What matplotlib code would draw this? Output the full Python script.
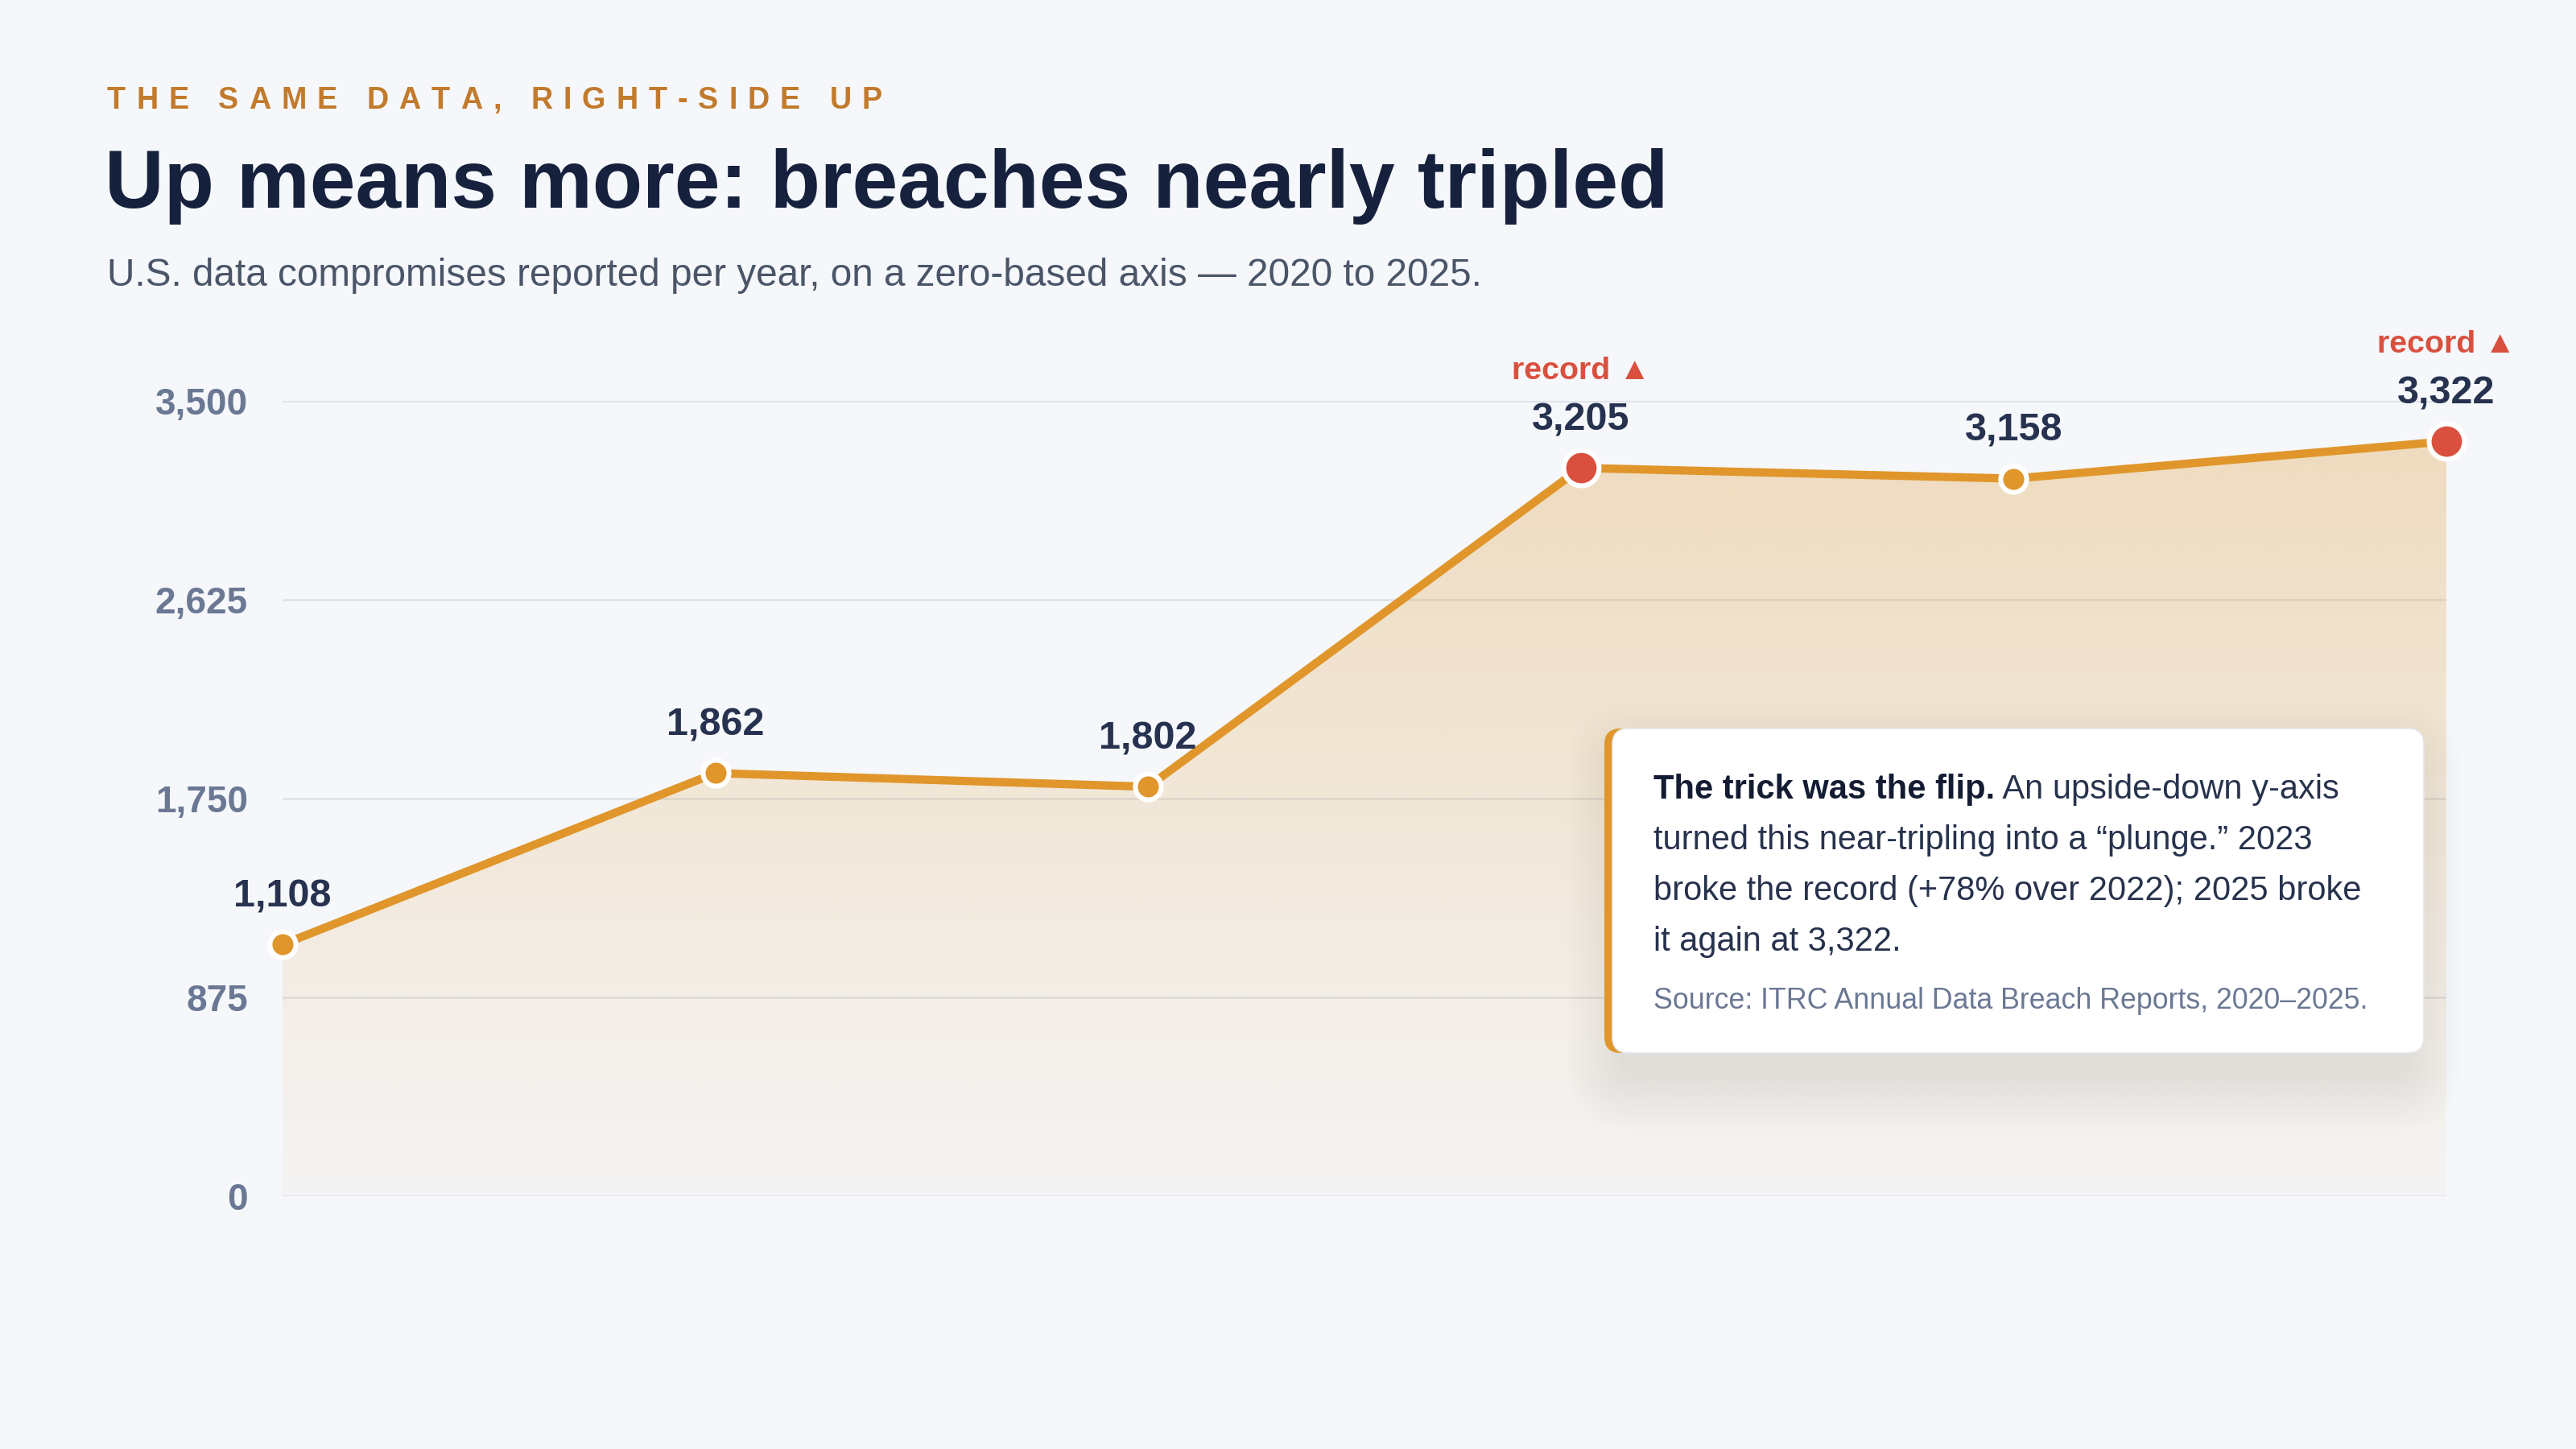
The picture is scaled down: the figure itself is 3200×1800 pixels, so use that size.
import numpy as np
import matplotlib
matplotlib.use('Agg')
import matplotlib.pyplot as plt
import matplotlib.transforms as mtransforms
from matplotlib.patches import FancyBboxPatch
from matplotlib.font_manager import FontProperties
from matplotlib.colors import to_rgb

years = [2020, 2021, 2022, 2023, 2024, 2025]
breaches = [1108, 1862, 1802, 3205, 3158, 3322]
record_years = [2023, 2025]
y_ticks = [0, 875, 1750, 2625, 3500]

eyebrow = "THE SAME DATA, RIGHT-SIDE UP"
title = "Up means more: breaches nearly tripled"
subtitle = "U.S. data compromises reported per year, on a zero-based axis \u2014 2020 to 2025."
note_bold = "The trick was the flip."
note_lines = [" An upside-down y-axis",
              "turned this near-tripling into a \u201cplunge.\u201d 2023",
              "broke the record (+78% over 2022); 2025 broke",
              "it again at 3,322."]
source = "Source: ITRC Annual Data Breach Reports, 2020\u20132025."

W, H, DPI = 3200, 1800, 200
BG = '#f5f7fa'
ORANGE = '#e0962b'
EYEBROW_C = '#c27a2c'
RED = '#d9503f'
NAVY = '#16213d'
LABEL = '#26324f'
BODY = '#27324d'
SUB = '#4a5568'
SLATE = '#6b7894'
GRID = '#dce1e9'

plt.rcParams['font.family'] = ['Liberation Sans', 'DejaVu Sans']

fig = plt.figure(figsize=(W / DPI, H / DPI), dpi=DPI, facecolor=BG)
ident = mtransforms.IdentityTransform()   # pixel coords, origin bottom-left
renderer = fig.canvas.get_renderer()


def T(y_top):
    # pixel y measured from the top edge
    return H - y_top


def text_w(s, fp):
    w, _, _ = renderer.get_text_width_height_descent(s, fp, ismath=False)
    return w


# ---- header ----
fp_eye = FontProperties(family='Liberation Sans', weight='bold', size=13.6)
x = 133
track = 13
for ch in eyebrow:
    fig.text(x, T(135), ch, transform=ident, fontproperties=fp_eye,
             color=EYEBROW_C, va='baseline', ha='left')
    x += text_w('H' + ch + 'H', fp_eye) - text_w('HH', fp_eye) + track

fig.text(130, T(258), title, transform=ident, fontsize=36.7, fontweight='bold',
         color=NAVY, va='baseline', ha='left')
fig.text(133, T(355), subtitle, transform=ident, fontsize=17.2,
         color=SUB, va='baseline', ha='left')

# ---- chart ----
ax = fig.add_axes([351 / W, 1 - 1486 / H, (3039 - 351) / W, (1486 - 498) / H])
ax.patch.set_visible(False)
for s in ax.spines.values():
    s.set_visible(False)

for t in y_ticks:
    ax.axhline(t, color=GRID, lw=0.9, zorder=0)

# gradient area under the line
fill = ax.fill_between(years, breaches, 0, color='none', lw=0)
alpha = np.linspace(0.03, 0.30, 256)
rgba = np.zeros((256, 1, 4))
rgba[..., :3] = to_rgb(ORANGE)
rgba[:, 0, 3] = alpha
img = ax.imshow(rgba, extent=[2020, 2025, 0, 3500], origin='lower',
                aspect='auto', zorder=1, interpolation='bilinear')
img.set_clip_path(fill.get_paths()[0], transform=ax.transData)

ax.plot(years, breaches, color=ORANGE, lw=3.7, zorder=3,
        solid_joinstyle='round', clip_on=False)

for yr, v in zip(years, breaches):
    rec = yr in record_years
    ax.plot(yr, v, 'o', ms=15.8 if rec else 11.6, mfc=RED if rec else ORANGE,
            mec='white', mew=2.2, zorder=4, clip_on=False)
    ax.annotate(f'{v:,}', (yr, v), xytext=(0, 17), textcoords='offset points',
                ha='center', va='baseline', fontsize=17.5, fontweight='bold',
                color=LABEL, annotation_clip=False)
    if rec:
        ax.annotate('record \u25b2', (yr, v), xytext=(0, 39.6),
                    textcoords='offset points', ha='center', va='baseline',
                    fontsize=14.2, fontweight='bold', color=RED,
                    annotation_clip=False)

ax.set_xlim(2020, 2025)
ax.set_ylim(0, 3500)
ax.set_xticks([])
ax.set_yticks(y_ticks)
ax.set_yticklabels([f'{v:,}' for v in y_ticks])
ax.tick_params(axis='y', length=0, pad=15.5, labelsize=16.5, labelcolor=SLATE)
for lbl in ax.get_yticklabels():
    lbl.set_fontweight('bold')

# ---- callout box ----
bx0, btop, bx1, bbot = 1993, 905, 3011, 1308
r = 20


def rbox(x0, top, x1, bot, rad, **kw):
    p = FancyBboxPatch((x0, T(bot)), x1 - x0, bot - top,
                       boxstyle=f'round,pad=0,rounding_size={rad}',
                       transform=ident, **kw)
    fig.add_artist(p)
    return p


# soft shadow
for i in range(18):
    g = 4 * i
    rbox(bx0 - g + 20, btop - g + 34, bx1 + g - 20, bbot + g + 30, r + g,
         facecolor='#3a3020', edgecolor='none', alpha=0.005, zorder=1)

rbox(bx0, btop, bx1, bbot, r, facecolor=ORANGE, edgecolor='none', zorder=2)
rbox(bx0 + 10, btop, bx1, bbot, r, facecolor='white', edgecolor='#e4e8ef',
     lw=0.6, zorder=2.1)

fp_bold = FontProperties(family='Liberation Sans', weight='bold', size=15)
fp_body = FontProperties(family='Liberation Sans', size=15)
tx = 2054
base = 992
step = 63
fig.text(tx, T(base), note_bold, transform=ident, fontproperties=fp_bold,
         color='#141c33', va='baseline', ha='left', zorder=3)
fig.text(tx + text_w(note_bold, fp_bold), T(base), note_lines[0],
         transform=ident, fontproperties=fp_body, color=BODY,
         va='baseline', ha='left', zorder=3)
for i, line in enumerate(note_lines[1:], start=1):
    fig.text(tx, T(base + i * step), line, transform=ident,
             fontproperties=fp_body, color=BODY, va='baseline', ha='left',
             zorder=3)
fig.text(tx, T(1253), source, transform=ident, fontsize=12.9, color=SLATE,
         va='baseline', ha='left', zorder=3)

fig.savefig('out.png', dpi=DPI, facecolor=BG)
